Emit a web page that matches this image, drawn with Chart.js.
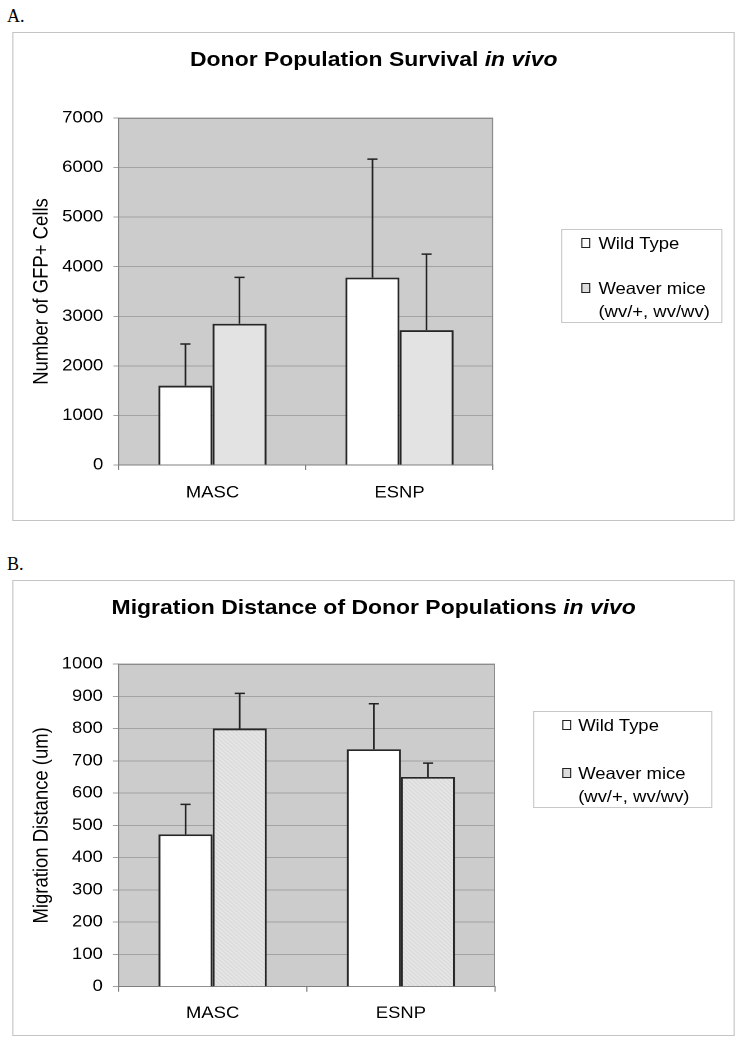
<!DOCTYPE html>
<html lang="en">
<head>
<meta charset="UTF-8">
<title>Donor populations in vivo</title>
<script src="https://cdn.jsdelivr.net/npm/chart.js"></script>
<style>
    body {
        margin: 0;
        background: #fff;
        width: 743px;
        height: 1050px;
        overflow: hidden;
        position: relative;
        font-family: "Liberation Sans", Arial, sans-serif;
    }
    .tag {
        position: absolute;
        left: 7px;
        font: 18px "Liberation Serif", "Times New Roman", serif;
        line-height: 20px;
    }
    /* the original figure has wide, stretched lettering */
    .stretch {
        position: absolute;
        left: 0;
        top: 0;
        width: 664px;
        height: 1050px;
        transform: scaleX(1.12);
        transform-origin: 0 0;
    }
    .frame {
        position: absolute;
        border: 1px solid #c4c4c4;
        box-sizing: border-box;
    }
    .title {
        position: absolute;
        text-align: center;
        font-weight: bold;
        font-size: 20.5px;
        line-height: 24px;
        white-space: nowrap;
    }
    canvas { position: absolute; }
    .legend {
        position: absolute;
        border: 1px solid #c8c8c8;
        box-sizing: border-box;
    }
    .legend .sw {
        position: absolute;
        width: 8px;
        height: 10px;
        border: 1px solid #222;
        box-sizing: border-box;
    }
    .legend .lt {
        position: absolute;
        font-size: 16.5px;
        line-height: 20px;
        white-space: nowrap;
    }
</style>
</head>
<body>
    <div class="tag" style="top:6px">A.</div>
    <div class="tag" style="top:554px">B.</div>

    <div class="stretch">
        <div class="frame" style="left:11.2px;top:32px;width:645px;height:489px"></div>
        <div class="title" style="left:11.2px;top:47px;width:645px">Donor Population Survival <i>in vivo</i></div>
        <canvas id="survivalChart" width="470" height="440" style="left:0;top:90px"></canvas>
        <div class="legend" id="survivalLegend"></div>

        <div class="frame" style="left:11.2px;top:580px;width:645px;height:456px"></div>
        <div class="title" style="left:11.2px;top:595px;width:645px">Migration Distance of Donor Populations <i>in vivo</i></div>
        <canvas id="migrationChart" width="470" height="400" style="left:0;top:640px"></canvas>
        <div class="legend" id="migrationLegend"></div>
    </div>

<script>
    // data
    const groups = ["MASC", "ESNP"];
    const legendLines = [["Wild Type"], ["Weaver mice", "(wv/+, wv/wv)"]];

    const survivalWild = [1600, 3780];
    const survivalWildErr = [840, 2390];
    const survivalWeaver = [2850, 2720];
    const survivalWeaverErr = [935, 1535];
    const survivalRange = [0, 7000, 1000];

    const migrationWild = [472, 736];
    const migrationWildErr = [93, 141];
    const migrationWeaver = [800, 650];
    const migrationWeaverErr = [109, 43];
    const migrationRange = [0, 1000, 100];

    Chart.defaults.font.family = '"Liberation Sans", Arial, sans-serif';
    Chart.defaults.color = "#000";

    // grey plot area with a thin frame on top and right
    const plotBackground = {
        id: "plotBackground",
        beforeDraw(chart) {
            const { ctx, chartArea: a } = chart;
            ctx.save();
            ctx.fillStyle = "#cccccc";
            ctx.fillRect(a.left, a.top, a.right - a.left, a.bottom - a.top);
            ctx.restore();
        },
        afterDraw(chart) {
            const { ctx, chartArea: a } = chart;
            ctx.save();
            ctx.strokeStyle = "#8c8c8c";
            ctx.lineWidth = 1;
            ctx.beginPath();
            ctx.moveTo(a.left, a.top + 0.5);
            ctx.lineTo(a.right - 0.5, a.top + 0.5);
            ctx.lineTo(a.right - 0.5, a.bottom);
            ctx.stroke();
            ctx.restore();
        }
    };

    // one-sided error bars with a small cap
    const errorBars = {
        id: "errorBars",
        afterDatasetsDraw(chart) {
            const ctx = chart.ctx;
            const y = chart.scales.y;
            ctx.save();
            ctx.strokeStyle = "#222";
            ctx.lineWidth = 1.5;
            chart.data.datasets.forEach((ds, i) => {
                chart.getDatasetMeta(i).data.forEach((bar, j) => {
                    const top = y.getPixelForValue(ds.data[j] + ds.errors[j]);
                    ctx.beginPath();
                    ctx.moveTo(bar.x, bar.y);
                    ctx.lineTo(bar.x, top);
                    ctx.moveTo(bar.x - 4.5, top);
                    ctx.lineTo(bar.x + 4.5, top);
                    ctx.stroke();
                });
            });
            ctx.restore();
        }
    };

    function dottedFill() {
        const c = document.createElement("canvas");
        c.width = 4;
        c.height = 4;
        const g = c.getContext("2d");
        g.fillStyle = "#e6e6e6";
        g.fillRect(0, 0, 4, 4);
        g.fillStyle = "#d3d3d3";
        for (let k = 0; k < 4; k++) g.fillRect(k, k, 1, 1);
        return g.createPattern(c, "repeat");
    }

    function buildChart(canvasId, cfg) {
        const ctx = document.getElementById(canvasId).getContext("2d");
        return new Chart(ctx, {
            type: "bar",
            data: {
                labels: groups,
                datasets: [{
                    label: legendLines[0].join(" "),
                    data: cfg.wild,
                    errors: cfg.wildErr,
                    backgroundColor: "#ffffff",
                    borderColor: "#262626",
                    borderWidth: 1.8,
                    categoryPercentage: cfg.groupWidth,
                    barPercentage: 1
                }, {
                    label: legendLines[1].join(" "),
                    data: cfg.weaver,
                    errors: cfg.weaverErr,
                    backgroundColor: cfg.weaverFill,
                    borderColor: "#262626",
                    borderWidth: 1.8,
                    categoryPercentage: cfg.groupWidth,
                    barPercentage: 1
                }]
            },
            options: {
                responsive: false,
                animation: false,
                devicePixelRatio: 2,
                layout: { padding: cfg.padding },
                plugins: {
                    legend: { display: false },
                    tooltip: { enabled: false }
                },
                scales: {
                    x: {
                        grid: { drawOnChartArea: false, tickLength: 5, color: "#808080" },
                        border: { color: "#808080" },
                        ticks: { font: { size: 16.5 }, padding: cfg.labelGap },
                        afterFit: s => { s.height = 40; }
                    },
                    y: {
                        min: cfg.range[0],
                        max: cfg.range[1],
                        grid: { color: "#a3a3a3", tickLength: 5 },
                        border: { color: "#808080" },
                        ticks: {
                            stepSize: cfg.range[2],
                            font: { size: 16.5 },
                            padding: 9,
                            callback: v => String(v)
                        },
                        title: {
                            display: true,
                            text: cfg.yTitle,
                            font: { size: 18.5 },
                            padding: { top: 4, bottom: 4 }
                        },
                        afterFit: s => { s.width = cfg.yWidth; }
                    }
                }
            },
            plugins: [plotBackground, errorBars]
        });
    }

    function buildLegend(id, box, fills) {
        const el = document.getElementById(id);
        el.style.left = box.left + "px";
        el.style.top = box.top + "px";
        el.style.width = box.width + "px";
        el.style.height = box.height + "px";
        legendLines.forEach((lines, i) => {
            const sw = document.createElement("div");
            sw.className = "sw";
            sw.style.left = box.swatchX + "px";
            sw.style.top = (box.rows[i] - 5) + "px";
            sw.style.background = fills[i];
            el.appendChild(sw);
            lines.forEach((t, k) => {
                const d = document.createElement("div");
                d.className = "lt";
                d.textContent = t;
                d.style.left = box.textX + "px";
                d.style.top = (box.rows[i] - 10 + k * 23) + "px";
                el.appendChild(d);
            });
        });
    }

    buildChart("survivalChart", {
        wild: survivalWild,
        wildErr: survivalWildErr,
        weaver: survivalWeaver,
        weaverErr: survivalWeaverErr,
        weaverFill: "#e3e3e3",
        range: survivalRange,
        yTitle: "Number of GFP+ Cells",
        groupWidth: 0.578,
        yWidth: 83.8,
        labelGap: 13,
        padding: { left: 22.4, top: 28, right: 29.8, bottom: 25 }
    });

    buildChart("migrationChart", {
        wild: migrationWild,
        wildErr: migrationWildErr,
        weaver: migrationWeaver,
        weaverErr: migrationWeaverErr,
        weaverFill: dottedFill(),
        range: migrationRange,
        yTitle: "Migration Distance (um)",
        groupWidth: 0.575,
        yWidth: 83.4,
        labelGap: 12,
        padding: { left: 22.4, top: 24, right: 28, bottom: 13.3 }
    });

    buildLegend("survivalLegend",
        { left: 500.9, top: 229, width: 143.7, height: 94, swatchX: 17.4, textX: 32.4, rows: [13, 57.5] },
        ["#ffffff", "#dddddd"]);
    buildLegend("migrationLegend",
        { left: 475.9, top: 711, width: 159.8, height: 97, swatchX: 25.4, textX: 39.3, rows: [13, 61] },
        ["#ffffff", "#dddddd"]);
</script>
</body>
</html>
